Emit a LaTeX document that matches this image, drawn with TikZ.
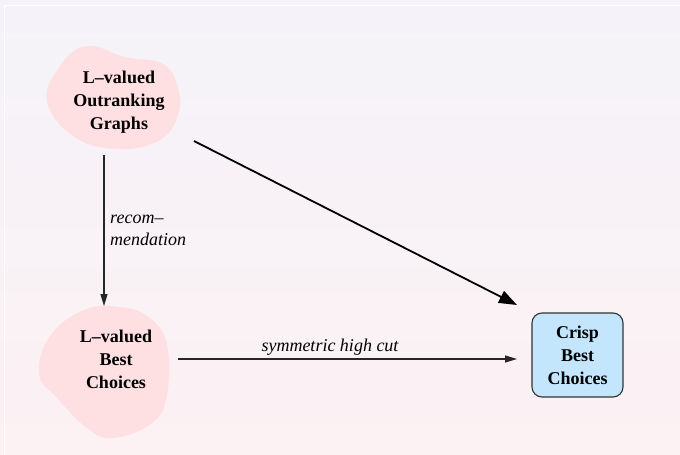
\documentclass[tikz,border=0pt]{standalone}
\usepackage{fontspec}
\setmainfont{Liberation Serif}
\usetikzlibrary{arrows.meta}
\definecolor{bgtop}{HTML}{F5F3F9}
\definecolor{bgbot}{HTML}{FCF1F3}
\definecolor{blob}{HTML}{FFE0E2}
\definecolor{crisp}{HTML}{C4E6FD}
\definecolor{edgegray}{HTML}{333333}
\tikzset{
  x=1pt, y=-1pt,
  blobtext/.style={font=\fontsize{18}{23}\selectfont\bfseries, align=center, inner sep=0pt},
  crispbox/.style={draw=edgegray, line width=1.1pt, fill=crisp, rounded corners=10pt,
    minimum width=91pt, minimum height=84pt, inner sep=0pt,
    font=\fontsize{18}{23}\selectfont\bfseries, align=center},
  edgelabel/.style={font=\fontsize{18}{22}\selectfont\itshape, inner sep=0pt},
  thinarrow/.style={draw=black!85, line width=1.1pt, -{Triangle[length=12pt,width=7pt]}},
  thickarrow/.style={draw=black, line width=1.8pt, -{Triangle[length=18pt,width=13pt]}},
}
\begin{document}
\begin{tikzpicture}
  % canvas with vertical gradient
  \useasboundingbox (0,0) rectangle (680,455);
  \shade[top color=bgtop, bottom color=bgbot] (0,0) rectangle (680,455);
  \draw[white, line width=1pt] (4,455) -- (4,5) -- (680,5);

  % soft blob behind the top node
  \fill[blob] plot[smooth cycle, tension=0.7] coordinates {
    (87,46) (125,57) (163,64) (178,88) (178,115) (160,140)
    (120,149) (76,138) (47,102) (60,66)};
  % soft blob behind the lower node
  \fill[blob] plot[smooth cycle, tension=0.7] coordinates {
    (120,307) (150,318) (167,345) (167,395) (152,423) (113,438)
    (87,428) (57,398) (39,374) (50,336) (84,310)};

  \node[blobtext] (graphs) at (119,102) {L--valued\\Outranking\\Graphs};
  \node[blobtext] (best)   at (116,359) {L--valued\\Best\\Choices};
  \node[crispbox] (crisp)  at (577.5,355) {Crisp\\Best\\Choices};

  % connector end points
  \coordinate (gS)  at (104,155);
  \coordinate (bN)  at (104,306);
  \coordinate (gE)  at (194,141);
  \coordinate (cNW) at (517,305);
  \coordinate (bE)  at (178,359);
  \coordinate (cW)  at (517,359);

  \draw[thinarrow]  (gS) -- (bN);
  \draw[thickarrow] (gE) -- (cNW);
  \draw[thinarrow]  (bE) -- (cW);

  \node[edgelabel, align=left, anchor=west] (reclab) at (110,230) {recom--\\mendation};
  \node[edgelabel, anchor=base] (cutlab) at (330,351) {symmetric high cut};
\end{tikzpicture}
\end{document}
